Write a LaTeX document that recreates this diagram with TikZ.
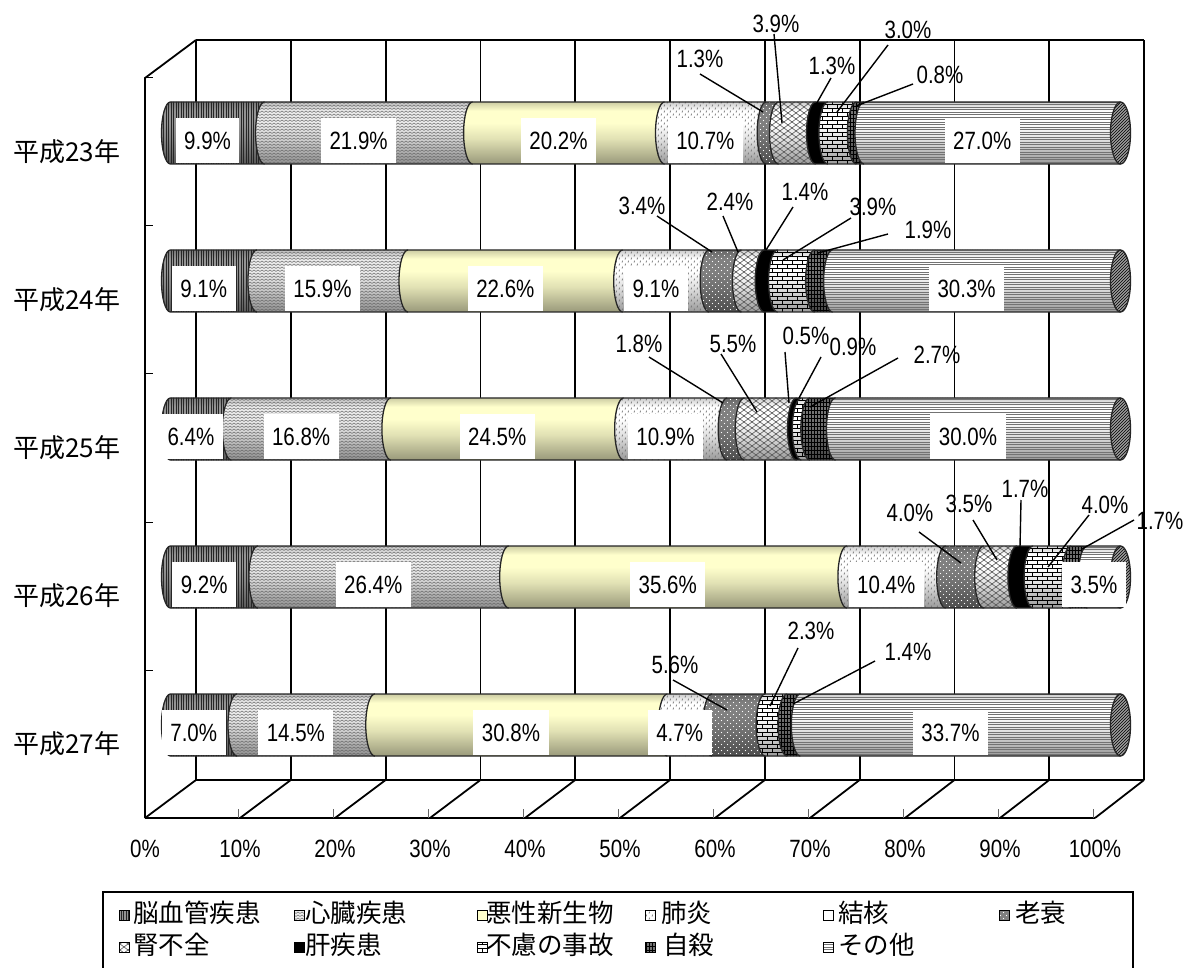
\documentclass[tikz,border=0pt]{standalone}
\usepackage{fontspec}
\newfontfamily\pctfont{Liberation Sans}[FakeStretch=0.82]
\newfontfamily\jpfont{Noto Sans CJK JP}
\usetikzlibrary{patterns}

% ---------- patterns ----------
\pgfdeclarepatternformonly{vlinesp}{\pgfpoint{-0.5pt}{-0.5pt}}{\pgfpoint{3pt}{3pt}}{\pgfpoint{2.5pt}{2.5pt}}{%
 \pgfsetlinewidth{0.7pt}\pgfpathmoveto{\pgfpoint{1pt}{-0.5pt}}\pgfpathlineto{\pgfpoint{1pt}{3pt}}\pgfusepath{stroke}}
\pgfdeclarepatternformonly{hlinesp}{\pgfpoint{-0.5pt}{-0.5pt}}{\pgfpoint{3pt}{3pt}}{\pgfpoint{2.5pt}{2.5pt}}{%
 \pgfsetlinewidth{0.6pt}\pgfpathmoveto{\pgfpoint{-0.5pt}{1pt}}\pgfpathlineto{\pgfpoint{3pt}{1pt}}\pgfusepath{stroke}}
\pgfdeclarepatternformonly{zigzagp}{\pgfpoint{-0.5pt}{-0.5pt}}{\pgfpoint{4.5pt}{3.5pt}}{\pgfpoint{4pt}{3pt}}{%
 \pgfsetlinewidth{0.5pt}\pgfpathmoveto{\pgfpoint{0pt}{0.5pt}}\pgfpathlineto{\pgfpoint{2pt}{2pt}}\pgfpathlineto{\pgfpoint{4pt}{0.5pt}}\pgfusepath{stroke}}
\pgfdeclarepatternformonly{latticep}{\pgfpoint{-0.5pt}{-0.5pt}}{\pgfpoint{8.5pt}{6.5pt}}{\pgfpoint{8pt}{6pt}}{%
 \pgfsetlinewidth{0.6pt}\pgfpathmoveto{\pgfpoint{0pt}{0pt}}\pgfpathlineto{\pgfpoint{8pt}{6pt}}%
 \pgfpathmoveto{\pgfpoint{0pt}{6pt}}\pgfpathlineto{\pgfpoint{8pt}{0pt}}\pgfusepath{stroke}}
\pgfdeclarepatternformonly{brickp}{\pgfpoint{-0.5pt}{-0.5pt}}{\pgfpoint{10.5pt}{8.5pt}}{\pgfpoint{10pt}{8pt}}{%
 \pgfsetlinewidth{0.6pt}%
 \pgfpathmoveto{\pgfpoint{0pt}{0pt}}\pgfpathlineto{\pgfpoint{10pt}{0pt}}%
 \pgfpathmoveto{\pgfpoint{0pt}{4pt}}\pgfpathlineto{\pgfpoint{10pt}{4pt}}%
 \pgfpathmoveto{\pgfpoint{2pt}{0pt}}\pgfpathlineto{\pgfpoint{2pt}{4pt}}%
 \pgfpathmoveto{\pgfpoint{7pt}{4pt}}\pgfpathlineto{\pgfpoint{7pt}{8pt}}\pgfusepath{stroke}}
\pgfdeclarepatternformonly{gridp}{\pgfpoint{-0.5pt}{-0.5pt}}{\pgfpoint{3.5pt}{4.5pt}}{\pgfpoint{3pt}{4pt}}{%
 \pgfsetlinewidth{0.6pt}%
 \pgfpathmoveto{\pgfpoint{1pt}{0pt}}\pgfpathlineto{\pgfpoint{1pt}{4pt}}%
 \pgfpathmoveto{\pgfpoint{0pt}{2pt}}\pgfpathlineto{\pgfpoint{3pt}{2pt}}\pgfusepath{stroke}}
\pgfdeclarepatternformonly{dashp}{\pgfpoint{-0.5pt}{-0.5pt}}{\pgfpoint{6.5pt}{6.5pt}}{\pgfpoint{6pt}{6pt}}{%
 \pgfsetlinewidth{0.7pt}%
 \pgfpathmoveto{\pgfpoint{1pt}{0.5pt}}\pgfpathlineto{\pgfpoint{1.6pt}{2.3pt}}%
 \pgfpathmoveto{\pgfpoint{4pt}{3.5pt}}\pgfpathlineto{\pgfpoint{4.6pt}{5.3pt}}\pgfusepath{stroke}}
\pgfdeclarepatternformonly{dotsp}{\pgfpoint{-0.5pt}{-0.5pt}}{\pgfpoint{6.5pt}{6.5pt}}{\pgfpoint{6pt}{6pt}}{%
 \pgfpathcircle{\pgfpoint{1.5pt}{1.5pt}}{0.7pt}\pgfpathcircle{\pgfpoint{4.5pt}{4.5pt}}{0.7pt}\pgfusepath{fill}}

% ---------- colours ----------
\definecolor{cA}{gray}{0.58}
\definecolor{cB}{gray}{0.93}
\definecolor{cC}{HTML}{FFFFCC}
\definecolor{cD}{gray}{1}
\definecolor{cE}{gray}{1}
\definecolor{cF}{gray}{0.5}
\definecolor{cG}{gray}{1}
\definecolor{cH}{gray}{0}
\definecolor{cI}{gray}{1}
\definecolor{cJ}{gray}{0.45}
\definecolor{cK}{gray}{1}
\definecolor{cL}{gray}{0.62}

\newcommand\mkcyl[1]{%
 \colorlet{#1dk}{c#1!60!black}\colorlet{#1md}{c#1!88!black}\colorlet{#1tp}{c#1!80!black}%
 \pgfdeclareverticalshading{cyl#1}{100bp}{color(0bp)=(#1dk); color(25bp)=(#1dk); color(45bp)=(#1md); color(58bp)=(c#1); color(68bp)=(c#1); color(75bp)=(#1tp); color(100bp)=(#1tp)}}
\mkcyl{A}\mkcyl{B}\mkcyl{C}\mkcyl{D}\mkcyl{F}\mkcyl{G}\mkcyl{H}\mkcyl{I}\mkcyl{J}\mkcyl{K}

\tikzset{
 patA/.style={pattern=vlinesp, pattern color=black!85},
 patB/.style={pattern=zigzagp, pattern color=black!60},
 patC/.style={},
 patD/.style={pattern=dashp, pattern color=black!55},
 patE/.style={},
 patF/.style={pattern=dotsp, pattern color=white},
 patG/.style={pattern=latticep, pattern color=black!65},
 patH/.style={},
 patI/.style={pattern=brickp, pattern color=black},
 patJ/.style={pattern=gridp, pattern color=black},
 patK/.style={pattern=hlinesp, pattern color=black!55},
 patL/.style={pattern=north east lines, pattern color=black},
 wall/.style={line width=1.8pt, black},
 segline/.style={line width=1.3pt, black!85},
 leader/.style={line width=1.4pt, black},
 pctf/.style={font=\pctfont\fontsize{25}{30}\selectfont},
 inbox/.style={pctf, fill=white, inner xsep=8.5pt, inner ysep=0pt, minimum height=45pt, text height=18pt, text depth=0pt},
 outl/.style={pctf, inner sep=0pt, text height=18pt, text depth=0pt},
 yl/.style={font=\jpfont\fontsize{26}{30}\selectfont, inner sep=0pt},
 legt/.style={font=\jpfont\fontsize{25.5}{30}\selectfont, inner sep=0pt, anchor=west},
}

\newcommand\cylseg[4]{%
 \pgfmathsetmacro\xa{170.5+9.5*#2}%
 \pgfmathsetmacro\xb{170.5+9.5*#3}%
 \pgfmathsetmacro\yt{#1-31}%
 \pgfmathsetmacro\yb{#1+31}%
 \shade[shading=cyl#4] (\xa,\yt) -- (\xb,\yt) -- (\xb,\yb) -- (\xa,\yb) arc[start angle=90,end angle=270,x radius=9,y radius=31] -- cycle;
 \path[pat#4] (\xa,\yt) -- (\xb,\yt) -- (\xb,\yb) -- (\xa,\yb) arc[start angle=90,end angle=270,x radius=9,y radius=31] -- cycle;
 \draw[segline] (\xb,\yt) -- (\xa,\yt) (\xb,\yb) -- (\xa,\yb) arc[start angle=90,end angle=270,x radius=9,y radius=31];
}
\newcommand\cylcap[1]{%
 \path[fill=cL] (1120.5,#1) ellipse[x radius=10,y radius=31];
 \path[patL] (1120.5,#1) ellipse[x radius=10,y radius=31];
 \draw[segline] (1120.5,#1) ellipse[x radius=10,y radius=31];
}
% inner label: name, cy, mid%, text
\newcommand\inlab[4]{\node[inbox] (#1) at ({170.5+9.5*#3-10},{#2+7.5}) {#4};}
% outer label: name, tx, ty, text, sx, sy, ex, ey
\newcommand\outlab[8]{%
 \node[outl] (#1) at (#2,#3) {#4};
 \coordinate (#1s) at (#5,#6);
 \coordinate (#1e) at (#7,#8);
 \draw[leader] (#1s) -- (#1e);
}
\newcommand\legitem[5]{% name, mx, my, cat
 \path[fill=c#4] ({#2-5},{#3-3}) rectangle ({#2+5},{#3+7});
 \path[pat#4] ({#2-5},{#3-3}) rectangle ({#2+5},{#3+7});
 \draw[line width=0.9pt] ({#2-5},{#3-3}) rectangle ({#2+5},{#3+7});
}

\begin{document}
\begin{tikzpicture}[x=1pt,y=-1pt]
\useasboundingbox (0,0) rectangle (1184,968);
\fill[white] (0,0) rectangle (1184,968);

% ---------- walls and floor ----------
\foreach \k in {0,...,10} {\draw[wall] ({196+94.8*\k},40) -- ({196+94.8*\k},780);}
\draw[wall] (196,40) -- (1144,40);
\draw[wall] (196,780) -- (1144,780);
\draw[wall] (145,818) -- (145,78) -- (196,40);
\draw[wall] (145,818) -- (1095,818);
\foreach \k in {0,...,10} {\draw[wall] ({145+95*\k},818) -- ({196+94.8*\k},780);}
\foreach \k in {1,...,10} {\draw[line width=0.8pt, black!60] ({143+95*\k},818) -- ++(0,-9);}
\foreach \j in {0,...,4} {\draw[line width=1pt] (145,{78+148*\j}) -- ++(8,0);}

% ---------- bars ----------
% H23
\cylseg{133}{0}{9.9}{A}
\cylseg{133}{9.9}{31.8}{B}
\cylseg{133}{31.8}{52.0}{C}
\cylseg{133}{52.0}{62.7}{D}
\cylseg{133}{62.7}{64.0}{F}
\cylseg{133}{64.0}{67.9}{G}
\cylseg{133}{67.9}{69.2}{H}
\cylseg{133}{69.2}{72.2}{I}
\cylseg{133}{72.2}{73.0}{J}
\cylseg{133}{73.0}{100}{K}
\cylcap{133}
% H24
\cylseg{281}{0}{9.1}{A}
\cylseg{281}{9.1}{25.0}{B}
\cylseg{281}{25.0}{47.6}{C}
\cylseg{281}{47.6}{56.7}{D}
\cylseg{281}{56.7}{60.1}{F}
\cylseg{281}{60.1}{62.5}{G}
\cylseg{281}{62.5}{63.9}{H}
\cylseg{281}{63.9}{67.8}{I}
\cylseg{281}{67.8}{69.7}{J}
\cylseg{281}{69.7}{100}{K}
\cylcap{281}
% H25
\cylseg{429}{0}{6.4}{A}
\cylseg{429}{6.4}{23.2}{B}
\cylseg{429}{23.2}{47.7}{C}
\cylseg{429}{47.7}{58.6}{D}
\cylseg{429}{58.6}{60.4}{F}
\cylseg{429}{60.4}{65.9}{G}
\cylseg{429}{65.9}{66.4}{H}
\cylseg{429}{66.4}{67.3}{I}
\cylseg{429}{67.3}{70.0}{J}
\cylseg{429}{70.0}{100}{K}
\cylcap{429}
% H26
\cylseg{577}{0}{9.2}{A}
\cylseg{577}{9.2}{35.6}{B}
\cylseg{577}{35.6}{71.2}{C}
\cylseg{577}{71.2}{81.6}{D}
\cylseg{577}{81.6}{85.6}{F}
\cylseg{577}{85.6}{89.1}{G}
\cylseg{577}{89.1}{90.8}{H}
\cylseg{577}{90.8}{94.8}{I}
\cylseg{577}{94.8}{96.5}{J}
\cylseg{577}{96.5}{100}{K}
\cylcap{577}
% H27
\cylseg{725}{0}{7.0}{A}
\cylseg{725}{7.0}{21.5}{B}
\cylseg{725}{21.5}{52.3}{C}
\cylseg{725}{52.3}{57.0}{D}
\cylseg{725}{57.0}{62.6}{F}
\cylseg{725}{62.6}{64.9}{I}
\cylseg{725}{64.9}{66.3}{J}
\cylseg{725}{66.3}{100}{K}
\cylcap{725}

% ---------- inner labels ----------
\inlab{a1}{133}{4.95}{9.9\%}
\inlab{a2}{133}{20.85}{21.9\%}
\inlab{a3}{133}{41.9}{20.2\%}
\inlab{a4}{133}{57.35}{10.7\%}
\inlab{a5}{133}{86.5}{27.0\%}
\inlab{b1}{281}{4.55}{9.1\%}
\inlab{b2}{281}{17.05}{15.9\%}
\inlab{b3}{281}{36.3}{22.6\%}
\inlab{b4}{281}{52.15}{9.1\%}
\inlab{b5}{281}{84.85}{30.3\%}
\inlab{c1}{429}{3.2}{6.4\%}
\inlab{c2}{429}{14.8}{16.8\%}
\inlab{c3}{429}{35.45}{24.5\%}
\inlab{c4}{429}{53.15}{10.9\%}
\inlab{c5}{429}{85.0}{30.0\%}
\inlab{d1}{577}{4.6}{9.2\%}
\inlab{d2}{577}{22.4}{26.4\%}
\inlab{d3}{577}{53.4}{35.6\%}
\inlab{d4}{577}{76.4}{10.4\%}
\inlab{d5}{577}{98.25}{3.5\%}
\inlab{e1}{725}{3.5}{7.0\%}
\inlab{e2}{725}{14.25}{14.5\%}
\inlab{e3}{725}{36.9}{30.8\%}
\inlab{e4}{725}{54.65}{4.7\%}
\inlab{e5}{725}{83.15}{33.7\%}

% ---------- outer labels with leaders ----------
\outlab{oa1}{700}{59}{1.3\%}{700}{74}{763}{112}
\outlab{oa2}{776}{24}{3.9\%}{774}{34}{782}{123}
\outlab{oa3}{832}{66}{1.3\%}{831}{78}{814}{108}
\outlab{oa4}{908}{30}{3.0\%}{888}{45}{837}{112}
\outlab{oa5}{940}{75}{0.8\%}{913}{84}{856}{106}

\outlab{ob1}{642}{206}{3.4\%}{657}{216}{712}{252}
\outlab{ob2}{730}{202}{2.4\%}{723}{216}{738}{252}
\outlab{ob3}{805}{192}{1.4\%}{793}{207}{766}{250}
\outlab{ob4}{873}{207}{3.9\%}{851}{218}{783}{260}
\outlab{ob5}{928}{230}{1.9\%}{888}{234}{818}{253}

\outlab{oc1}{639}{344}{1.8\%}{649}{357}{723}{403}
\outlab{oc2}{733}{344}{5.5\%}{721}{354}{757}{412}
\outlab{oc3}{806}{336}{0.5\%}{785}{352}{789}{403}
\outlab{oc4}{853}{347}{0.9\%}{821}{357}{799}{398}
\outlab{oc5}{937}{354}{2.7\%}{898}{358}{810}{407}

\outlab{od1}{910}{512}{4.0\%}{919}{532}{961}{563}
\outlab{od2}{969}{503}{3.5\%}{973}{520}{997}{560}
\outlab{od3}{1025}{488}{1.7\%}{1021}{500}{1020}{547}
\outlab{od4}{1105}{504}{4.0\%}{1089}{515}{1048}{567}
\outlab{od5}{1160}{520}{1.7\%}{1134}{520}{1082}{549}

\outlab{oe1}{675}{664}{5.6\%}{673}{680}{727}{710}
\outlab{oe2}{811}{630}{2.3\%}{798}{648}{770}{706}
\outlab{oe3}{908}{651}{1.4\%}{875}{661}{793}{704}

% ---------- axis labels ----------
\foreach \k/\t in {0/0,1/10,2/20,3/30,4/40,5/50,6/60,7/70,8/80,9/90,10/100}
 {\node[outl] (ax\k) at ({145+95*\k},848) {\t\%};}

% ---------- category labels ----------
\foreach \j/\n in {0/23,1/24,2/25,3/26,4/27}
 {\node[yl] (yr\n) at (67,{152+148*\j}) {平成\n 年};}

% ---------- legend ----------
\draw[line width=1.6pt] (103,892) rectangle (1133,980);
\legitem{mA}{124}{913}{A}{}
\node[legt] (lA) at (133,913) {脳血管疾患};
\legitem{mB}{299}{913}{B}{}
\node[legt] (lB) at (305,913) {心臓疾患};
\legitem{mC}{482}{913}{C}{}
\node[legt] (lC) at (486,913) {悪性新生物};
\legitem{mD}{650}{913}{D}{}
\node[legt] (lD) at (661,913) {肺炎};
\legitem{mE}{828}{913}{E}{}
\node[legt] (lE) at (838,913) {結核};
\legitem{mF}{1004}{913}{F}{}
\node[legt] (lF) at (1015,913) {老衰};
\legitem{mG}{124}{945}{G}{}
\node[legt] (lG) at (133,945) {腎不全};
\legitem{mH}{299}{945}{H}{}
\node[legt] (lH) at (305,945) {肝疾患};
\legitem{mI}{482}{945}{I}{}
\node[legt] (lI) at (486,945) {不慮の事故};
\legitem{mJ}{650}{945}{J}{}
\node[legt] (lJ) at (663,945) {自殺};
\legitem{mK}{828}{945}{K}{}
\node[legt] (lK) at (838,945) {その他};
\end{tikzpicture}
\end{document}
